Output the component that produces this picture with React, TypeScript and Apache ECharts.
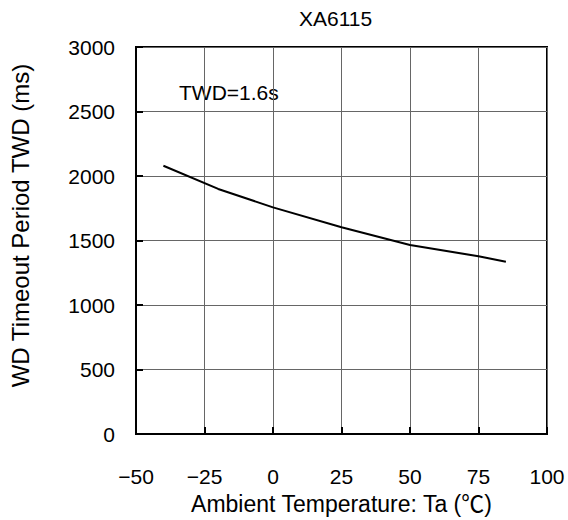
import React, { useEffect, useRef } from "react";
import * as echarts from "echarts";

const temperatures = [-40, -20, 0, 25, 50, 75, 85];
const twdValues = [2080, 1900, 1757, 1603, 1465, 1378, 1335];
const xTicks = [-50, -25, 0, 25, 50, 75, 100];
const yTicks = [0, 500, 1000, 1500, 2000, 2500, 3000];
const titleText = "XA6115";
const annotation = "TWD=1.6s";
const xName = "Ambient Temperature: Ta (℃)";
const yName = "WD Timeout Period TWD (ms)";

const FONT = "'Liberation Sans', Arial, 'Noto Sans CJK JP', sans-serif";

export default function App() {
  const ref = useRef<HTMLDivElement>(null);
  useEffect(() => {
    document.body.style.margin = "0";
    if (!ref.current) return;
    const chart = echarts.init(ref.current, null, { renderer: "svg" });
    const data = temperatures.map((t, i) => [t, twdValues[i]]);
    chart.setOption({
      animation: false,
      backgroundColor: "#fff",
      textStyle: { fontFamily: FONT },
      title: {
        text: titleText,
        left: 299,
        top: 8,
        padding: 0,
        textStyle: { fontFamily: FONT, fontSize: 21, fontWeight: "normal", color: "#000" },
      },
      grid: {
        left: 133,
        right: 21,
        top: 47,
        bottom: 81.5,
        show: true,
        borderColor: "#000",
        borderWidth: 2,
        backgroundColor: "transparent",
      },
      xAxis: {
        type: "value",
        min: xTicks[0],
        max: xTicks[xTicks.length - 1],
        interval: 25,
        name: xName,
        nameLocation: "middle",
        nameGap: 53,
        nameTextStyle: { fontFamily: FONT, fontSize: 23, color: "#000" },
        axisLine: { show: true, onZero: false, lineStyle: { color: "#000", width: 2 } },
        axisTick: { show: true, inside: true, length: 7, lineStyle: { color: "#000", width: 2 } },
        axisLabel: {
          margin: 32,
          fontFamily: FONT,
          fontSize: 21,
          color: "#000",
          formatter: (v: number) => String(v).replace("-", "\u2212"),
        },
        splitLine: { show: true, lineStyle: { color: "#666", width: 1 } },
      },
      yAxis: {
        type: "value",
        min: yTicks[0],
        max: yTicks[yTicks.length - 1],
        interval: 500,
        name: yName,
        nameLocation: "middle",
        nameRotate: 90,
        nameGap: 104,
        nameTextStyle: { fontFamily: FONT, fontSize: 24, color: "#000", padding: [0, 0, 0, 30] },
        axisLine: { show: true, onZero: false, lineStyle: { color: "#000", width: 2 } },
        axisTick: { show: true, inside: true, length: 7, lineStyle: { color: "#000", width: 2 } },
        axisLabel: {
          margin: 21,
          fontFamily: FONT,
          fontSize: 21,
          color: "#000",
          formatter: (v: number) => String(v),
        },
        splitLine: { show: true, lineStyle: { color: "#666", width: 1 } },
      },
      graphic: [
        {
          type: "text",
          left: 179,
          top: 82,
          style: { text: annotation, font: `21px ${FONT}`, fill: "#000" },
        },
      ],
      series: [
        {
          type: "line",
          data,
          symbol: "none",
          lineStyle: { color: "#000", width: 2 },
        },
      ],
    });
    return () => chart.dispose();
  }, []);
  return <div ref={ref} style={{ width: 568, height: 520 }} />;
}
